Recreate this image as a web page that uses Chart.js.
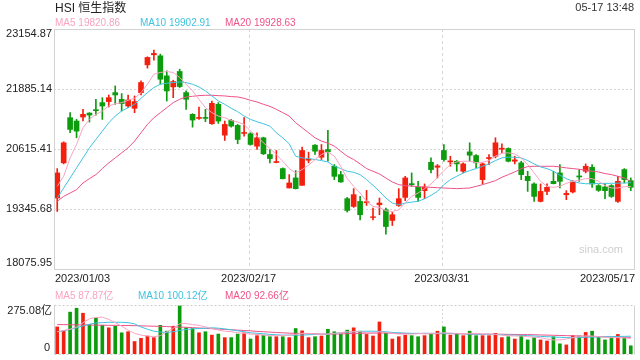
<!DOCTYPE html>
<html>
<head>
<meta charset="utf-8">
<script src="https://cdn.jsdelivr.net/npm/chart.js@4.4.0/dist/chart.umd.min.js"></script>
<style>
body{margin:0;width:640px;height:360px;background:#fff;position:relative;overflow:hidden;
  font-family:"Liberation Sans",Arial,"Noto Sans CJK SC",sans-serif;}
.t{position:absolute;white-space:nowrap;line-height:1;}
#mainBox{position:absolute;left:0;top:0;width:640px;height:290px;}
#volBox{position:absolute;left:0;top:290px;width:640px;height:70px;}
</style>
</head>
<body>
<div id="mainBox"><canvas id="main" width="640" height="290"></canvas></div>
<div id="volBox"><canvas id="vol" width="640" height="70"></canvas></div>

<div class="t" style="left:55px;top:2px;font-size:12px;color:#222">HSI 恒生指数</div>
<div class="t" style="right:6px;top:2px;font-size:11px;color:#333">05-17 13:48</div>
<div class="t" style="left:55px;top:18px;font-size:10px;color:#f9a3c3">MA5 19820.86</div>
<div class="t" style="left:140px;top:18px;font-size:10px;color:#3fc3df">MA10 19902.91</div>
<div class="t" style="left:225px;top:18px;font-size:10px;color:#ee5288">MA20 19928.63</div>
<div class="t" style="right:17px;top:244px;font-size:11px;color:#cfcfcf">sina.com</div>
<div class="t" style="left:55px;top:291px;font-size:10px;color:#f9a3c3">MA5 87.87亿</div>
<div class="t" style="left:138px;top:291px;font-size:10px;color:#3fc3df">MA10 100.12亿</div>
<div class="t" style="left:225px;top:291px;font-size:10px;color:#ee5288">MA20 92.66亿</div>

<script>
// trading days shown
var dates = [
  '2023/01/03','2023/01/04','2023/01/05','2023/01/06','2023/01/09','2023/01/10','2023/01/11','2023/01/12','2023/01/13',
  '2023/01/16','2023/01/17','2023/01/18','2023/01/19','2023/01/20','2023/01/26','2023/01/27','2023/01/30','2023/01/31',
  '2023/02/01','2023/02/02','2023/02/03','2023/02/06','2023/02/07','2023/02/08','2023/02/09','2023/02/10','2023/02/13',
  '2023/02/14','2023/02/15','2023/02/16','2023/02/17','2023/02/20','2023/02/21','2023/02/22','2023/02/23','2023/02/24',
  '2023/02/27','2023/02/28','2023/03/01','2023/03/02','2023/03/03','2023/03/06','2023/03/07','2023/03/08','2023/03/09',
  '2023/03/10','2023/03/13','2023/03/14','2023/03/15','2023/03/16','2023/03/17','2023/03/20','2023/03/21','2023/03/22',
  '2023/03/23','2023/03/24','2023/03/27','2023/03/28','2023/03/29','2023/03/30','2023/03/31','2023/04/03','2023/04/04',
  '2023/04/06','2023/04/11','2023/04/12','2023/04/13','2023/04/14','2023/04/17','2023/04/18','2023/04/19','2023/04/20',
  '2023/04/21','2023/04/24','2023/04/25','2023/04/26','2023/04/27','2023/04/28','2023/05/02','2023/05/03','2023/05/04',
  '2023/05/05','2023/05/08','2023/05/09','2023/05/10','2023/05/11','2023/05/12','2023/05/15','2023/05/16','2023/05/17'
];

var openP = [19578,20322,21278,21207,21291,21376,21448,21597,21618,21809,21667,21525,21476,21809,22396,22609,22587,22163,
  21929,22256,21809,21349,21263,21284,21151,21561,20909,21221,21115,20945,20938,20675,20853,20499,20329,20201,
  19791,20003,19846,20378,20697,20441,20604,20250,20073,19564,19400,19506,19478,19166,19436,19330,19103,19421,
  19591,19882,19804,19734,20335,20229,20584,20343,20356,20144,20555,20477,19967,20413,20463,20611,20626,20356,
  20322,20037,19876,19506,19718,19931,20109,19649,19706,20045,20144,20229,19840,19812,19840,19506,20180,19946];
var highP = [20201,20768,21384,21242,21455,21384,21667,21702,21759,21950,21788,21759,21738,22056,22566,22709,22623,22269,
  22071,22305,21844,21363,21504,21455,21631,21597,21207,21242,21136,21278,20960,20960,20866,20604,20583,20215,
  20073,20159,20654,20548,20711,20711,21008,20286,20144,19591,19776,19612,19740,19366,19578,19366,19273,19776,
  20037,20109,19931,19876,20428,20286,20711,20463,20371,20322,20747,20499,20322,20499,20853,20726,20640,20463,
  20356,20144,19897,19876,19876,20144,20286,19734,19946,20180,20300,20286,19861,19876,19861,20037,20201,20003];
var lowP = [19294,20300,20960,20853,21207,21185,21333,21242,21504,21561,21419,21491,21384,21759,22326,22496,21986,21631,
  21702,21916,21455,21078,21242,21193,21136,21157,20796,21078,20726,20887,20697,20604,20499,20322,20322,19981,
  19791,19769,19846,20322,20499,20392,20356,19967,19910,19281,19379,19117,19421,19117,19224,18813,18996,19400,
  19521,19825,19506,19564,20109,20003,20356,20250,20144,20109,20356,20215,19876,20286,20428,20534,20343,20300,
  19967,19718,19506,19495,19649,19876,19791,19542,19685,19931,20109,19804,19718,19564,19591,19485,19897,19734];
var closeP = [20109,20747,21030,20994,21349,21333,21426,21525,21702,21759,21576,21653,21618,22022,22553,22638,22092,21844,
  22043,21937,21667,21228,21284,21263,21582,21207,21136,21100,20817,20966,20711,20853,20513,20413,20350,19988,
  19897,19776,20584,20399,20569,20584,20555,20037,19918,19315,19649,19224,19500,19181,19472,18975,19224,19564,
  20003,19861,19591,19812,20180,20258,20392,20364,20300,20300,20484,20322,20300,20435,20747,20633,20356,20385,
  20073,19946,19612,19718,19804,19882,19931,19676,19918,20024,20250,19876,19740,19734,19612,19931,19967,19804];

var ma5 = [19825,20038,20427,20711,21065,21242,21348,21419,21525,21575,21596,21646,21688,21809,21986,22198,22234,22255,
  22234,22128,21986,21844,21667,21490,21384,21313,21278,21221,21185,21136,20994,20888,20746,20626,20498,20357,
  20201,20109,20180,20272,20392,20498,20555,20463,20250,19988,19825,19684,19507,19400,19379,19308,19294,19329,
  19471,19613,19684,19776,19875,20017,20158,20286,20342,20357,20357,20328,20335,20371,20463,20527,20534,20512,
  20427,20286,20109,19932,19825,19804,19825,19889,19932,19953,19988,19988,19932,19839,19790,19790,19818,19821];
var ma10 = [19577,19790,20002,20215,20427,20640,20817,20994,21171,21313,21419,21490,21561,21688,21809,21915,21986,22007,
  22021,22035,22021,21986,21929,21844,21738,21632,21561,21476,21405,21313,21242,21192,21150,21100,20959,20852,
  20725,20463,20427,20413,20392,20371,20342,20250,20201,20144,20123,20073,19967,19847,19719,19577,19471,19436,
  19471,19492,19507,19563,19634,19719,19861,19967,20038,20109,20158,20201,20250,20300,20371,20427,20442,20442,
  20427,20371,20300,20236,20201,20144,20059,19988,19932,19896,19880,19882,19885,19888,19890,19893,19896,19903];
var ma20 = [19507,19613,19684,19754,19896,19988,20073,20201,20321,20427,20534,20640,20782,20959,21136,21278,21384,21490,
  21596,21667,21717,21731,21745,21752,21752,21745,21738,21724,21717,21688,21646,21610,21561,21518,21455,21384,
  21313,21171,21065,20959,20852,20782,20739,20675,20569,20463,20392,20300,20201,20144,20087,20002,19917,19861,
  19839,19832,19818,19811,19804,19797,19790,19783,19776,19783,19790,19825,19861,19903,19946,20017,20073,20130,
  20201,20243,20250,20250,20250,20250,20236,20215,20201,20187,20165,20144,20130,20095,20073,20038,20002,19929];

// volume in 亿
var volume = [152,132,235,257,229,165,202,161,147,156,119,125,70,88,101,92,161,128,156,272,147,143,119,125,106,112,92,92,
  112,119,84,103,106,97,97,97,92,143,130,92,97,101,139,125,112,134,147,128,110,101,180,116,84,97,106,103,97,103,110,
  128,152,106,116,103,128,103,103,103,116,92,97,84,106,79,92,79,73,97,57,51,103,101,121,128,97,79,92,110,92,46];
var volMa5 = [125,132,139,152,176,198,205,207,194,176,156,134,116,106,101,97,103,125,143,170,171,165,161,152,143,134,128,
  125,119,116,112,110,106,103,103,103,106,110,116,116,112,110,112,116,119,125,125,125,119,119,125,121,116,112,112,112,
  114,116,116,116,119,117,116,114,116,116,112,112,110,106,103,101,101,97,94,92,84,79,79,84,92,97,101,101,97,94,92,92,90,87.87];
var volMa10 = [125,130,138,147,158,167,174,176,178,178,178,176,169,152,139,128,123,121,125,132,138,141,143,145,147,145,141,
  136,130,125,119,116,114,110,108,106,106,106,106,108,110,110,112,116,119,123,125,127,128,128,127,125,121,119,117,116,
  116,116,116,116,116,116,114,114,112,112,110,110,110,108,106,106,105,103,101,99,97,95,94,92,92,92,94,95,95,97,97,99,99,100.12];
var volMa20 = [165,165,164,164,163,163,162,162,161,161,160,160,159,158,157,156,155,154,152,151,150,148,146,144,142,140,138,
  136,134,132,130,127,125,123,121,119,117,116,115,114,113,112,112,112,113,114,115,116,117,117,118,118,117,116,116,115,
  115,114,114,114,114,114,113,113,112,112,111,111,111,111,110,110,109,109,108,107,106,105,104,103,102,101,100,99,98,97,96,95,94,92.66];

var yTicks = [18075.95, 19345.68, 20615.41, 21885.14, 23154.87];
var volMax = 275.08;
var xTickDates = ['2023/01/03', '2023/02/17', '2023/03/31', '2023/05/17'];

var RED = '#f4200f', GREEN = '#0d9c0d';
var C_MA5 = '#f9a3c3', C_MA10 = '#3fc3df', C_MA20 = '#ee5288';
var FONT = '11px "Liberation Sans", Arial, "Noto Sans CJK SC", sans-serif';

var candleColors = openP.map(function(o, i){ return closeP[i] >= o ? RED : GREEN; });
var bodies = openP.map(function(o, i){ return [o, closeP[i]]; });
var wicks = lowP.map(function(l, i){ return [l, highP[i]]; });

function dotted(ctx, x0, y0, x1, y1, color, dash) {
  ctx.save();
  ctx.strokeStyle = color;
  ctx.lineWidth = 1;
  ctx.setLineDash(dash || [2, 2]);
  ctx.beginPath();
  ctx.moveTo(x0, y0); ctx.lineTo(x1, y1);
  ctx.stroke();
  ctx.restore();
}
function px(v) { return Math.round(v) + 0.5; }

var mainDeco = {
  id: 'mainDeco',
  beforeDatasetsDraw: function(chart) {
    var ctx = chart.ctx, a = chart.chartArea, x = chart.scales.x, y = chart.scales.y;
    // horizontal grid
    yTicks.slice(1, -1).forEach(function(v){
      var yy = px(y.getPixelForValue(v));
      dotted(ctx, a.left, yy, a.right, yy, '#d6d6d6', [2, 2]);
    });
    // vertical grid at middle date labels
    xTickDates.slice(1, -1).forEach(function(d){
      var xx = px(x.getPixelForValue(dates.indexOf(d)) - 2);
      dotted(ctx, xx, a.top, xx, a.bottom, '#d6d6d6', [3, 3]);
    });
  },
  afterDraw: function(chart) {
    var ctx = chart.ctx, a = chart.chartArea, x = chart.scales.x, y = chart.scales.y;
    ctx.save();
    ctx.strokeStyle = '#d2d2d2';
    ctx.lineWidth = 1;
    ctx.strokeRect(px(a.left), px(a.top), Math.round(a.right - a.left), Math.round(a.bottom - a.top));
    ctx.font = FONT;
    ctx.fillStyle = '#222';
    ctx.textAlign = 'right';
    ctx.textBaseline = 'middle';
    yTicks.forEach(function(v, i){
      var yy = y.getPixelForValue(v);
      if (i === 0) yy -= 6;
      if (i === yTicks.length - 1) yy += 5;
      ctx.fillText(v.toFixed(2), 52, yy);
    });
    xTickDates.forEach(function(d, i){
      var xx = x.getPixelForValue(dates.indexOf(d)) - 2;
      if (i === 0) { ctx.textAlign = 'left'; xx = a.left + 1; }
      else if (i === xTickDates.length - 1) { ctx.textAlign = 'right'; xx = a.right + 1; }
      else ctx.textAlign = 'center';
      ctx.fillText(d, xx, a.bottom + 10);
    });
    ctx.restore();
  }
};

var volDeco = {
  id: 'volDeco',
  beforeDatasetsDraw: function(chart) {
    var ctx = chart.ctx, a = chart.chartArea, x = chart.scales.x;
    xTickDates.slice(1, -1).forEach(function(d){
      var xx = px(x.getPixelForValue(dates.indexOf(d)) - 2);
      dotted(ctx, xx, a.top, xx, a.bottom, '#d6d6d6', [2, 2]);
    });
  },
  afterDraw: function(chart) {
    var ctx = chart.ctx, a = chart.chartArea;
    var l = px(a.left), r = px(a.right), t = px(a.top), b = px(a.bottom);
    dotted(ctx, l, t, r, t, '#cfcfcf', [2, 2]);
    dotted(ctx, l, b, r, b, '#cfcfcf', [2, 2]);
    ctx.save();
    ctx.strokeStyle = '#d2d2d2';
    ctx.lineWidth = 1;
    ctx.beginPath();
    ctx.moveTo(l, t); ctx.lineTo(l, b);
    ctx.moveTo(r, t); ctx.lineTo(r, b);
    ctx.stroke();
    ctx.font = FONT;
    ctx.fillStyle = '#222';
    ctx.textAlign = 'right';
    ctx.textBaseline = 'middle';
    ctx.fillText(volMax.toFixed(2) + '亿', 52, a.top + 6);
    ctx.fillText('0', 50, a.bottom - 6);
    ctx.restore();
  }
};

function lineSet(data, color) {
  return { type: 'line', data: data, borderColor: color, borderWidth: 1, pointRadius: 0,
           fill: false, tension: 0, order: 0 };
}

var baseX = {
  type: 'category', offset: true,
  grid: { display: false, drawTicks: false },
  border: { display: false },
  ticks: { display: false, autoSkip: false },
  afterFit: function(s){ s.height = 0; }
};

new Chart(document.getElementById('main').getContext('2d'), {
  data: {
    labels: dates,
    datasets: [
      lineSet(ma5, C_MA5),
      lineSet(ma10, C_MA10),
      lineSet(ma20, C_MA20),
      { type: 'bar', data: bodies, backgroundColor: candleColors, barThickness: 5, grouped: false, order: 2 },
      { type: 'bar', data: wicks, backgroundColor: candleColors, barThickness: 1, grouped: false, order: 3 }
    ]
  },
  options: {
    responsive: false,
    animation: false,
    layout: { padding: { top: 29, right: 6, bottom: 21, left: 0 } },
    plugins: { legend: { display: false }, tooltip: { enabled: false } },
    scales: {
      x: baseX,
      y: {
        min: yTicks[0], max: yTicks[yTicks.length - 1],
        grid: { display: false },
        border: { display: false },
        ticks: { display: false },
        afterFit: function(s){ s.width = 54; }
      }
    }
  },
  plugins: [mainDeco]
});

new Chart(document.getElementById('vol').getContext('2d'), {
  data: {
    labels: dates,
    datasets: [
      lineSet(volMa5, C_MA5),
      lineSet(volMa10, C_MA10),
      lineSet(volMa20, C_MA20),
      { type: 'bar', data: volume, backgroundColor: candleColors, barThickness: 3, order: 2 }
    ]
  },
  options: {
    responsive: false,
    animation: false,
    layout: { padding: { top: 15, right: 6, bottom: 6, left: 0 } },
    plugins: { legend: { display: false }, tooltip: { enabled: false } },
    scales: {
      x: baseX,
      y: {
        min: 0, max: volMax,
        grid: { display: false },
        border: { display: false },
        ticks: { display: false },
        afterFit: function(s){ s.width = 54; }
      }
    }
  },
  plugins: [volDeco]
});
</script>
</body>
</html>
